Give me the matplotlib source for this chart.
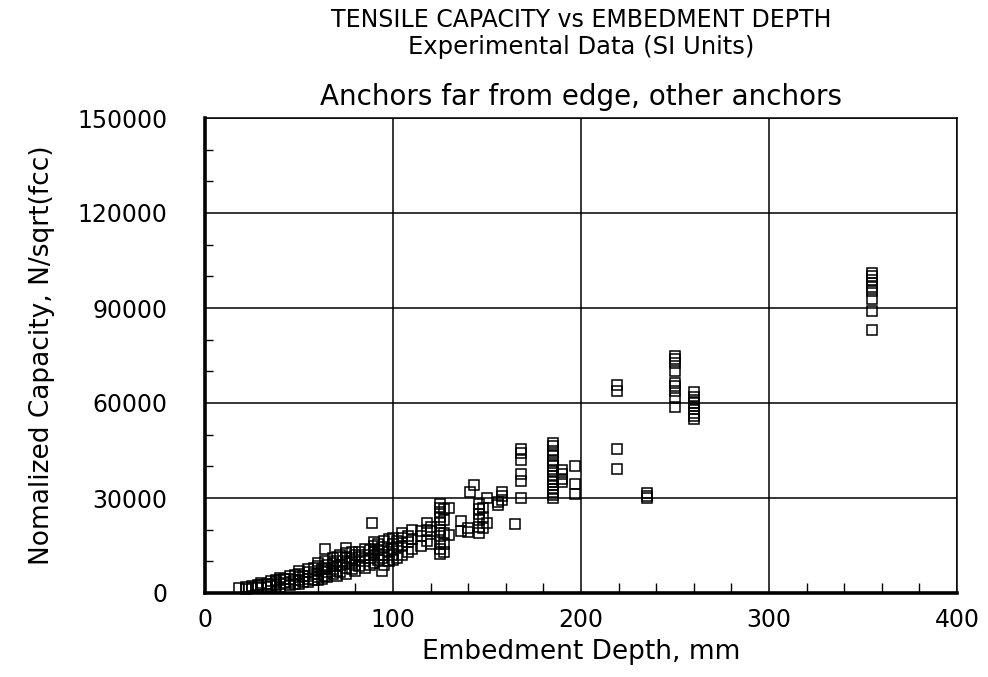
import numpy as np
import matplotlib
matplotlib.use("Agg")
from matplotlib import pyplot as plt
from matplotlib.ticker import MultipleLocator

# embedment depth (mm) and normalized capacity (N/sqrt(fcc))
depth = [
    18, 22, 22, 25, 25, 28, 28, 30, 30, 30, 33, 33, 35, 35, 35,
    38, 38, 38, 40, 40, 40, 40, 42, 42, 45, 45, 45, 45, 48, 48, 48,
    50, 50, 50, 50, 50, 52, 52, 55, 55, 55, 55, 55, 58, 58, 58,
    60, 60, 60, 60, 60, 60, 62, 62, 64, 64, 64, 64, 65, 65, 65,
    68, 68, 68, 68, 70, 70, 70, 70, 70, 72, 72, 72,
    75, 75, 75, 75, 75, 75, 78, 78, 78, 78, 80, 80, 80, 80,
    82, 82, 82, 85, 85, 85, 85, 88, 88, 88, 89,
    90, 90, 90, 90, 90, 90, 92, 92, 92, 94, 94, 94, 95, 95, 95,
    98, 98, 98, 100, 100, 100, 100, 100, 102, 102, 102,
    105, 105, 105, 105, 108, 108, 108, 110, 110, 110,
    115, 115, 115, 118, 118, 118, 120, 120, 120,
    125, 125, 125, 125, 125, 125, 125, 125, 125, 125,
    127, 127, 127, 127, 127, 130, 130, 136, 136, 140, 140, 141, 143,
    146, 146, 146, 146, 146, 146, 148, 148, 148, 150, 150,
    156, 156, 158, 158, 158, 165,
    168, 168, 168, 168, 168, 168,
    185, 185, 185, 185, 185, 185, 185, 185, 185, 185, 185, 185, 185, 185, 185, 185,
    190, 190, 190, 190, 197, 197, 197,
    219, 219, 219, 219, 235, 235, 235,
    250, 250, 250, 250, 250, 250, 250, 250, 250,
    260, 260, 260, 260, 260, 260, 260, 260, 260,
    355, 355, 355, 355, 355, 355, 355, 355, 355,
]
capacity = [
    1500, 1200, 1800, 1500, 2200, 1800, 2600, 1500, 2500, 3200, 2000, 3000, 2200, 3000, 3800,
    2500, 3500, 4200, 2000, 3000, 4000, 4800, 3200, 4500, 2500, 3500, 4500, 5500, 3000, 4200, 5800,
    3000, 4000, 5000, 6000, 7000, 3500, 5500, 3500, 4500, 5500, 6500, 7500, 4000, 6000, 8000,
    4000, 5000, 6000, 7000, 8500, 9500, 4500, 7500, 14000, 5500, 8000, 10000, 5000, 6500, 9000,
    6000, 7500, 9500, 11000, 5500, 7000, 8500, 10000, 11500, 6500, 9000, 12000,
    14300, 6000, 8000, 10000, 11500, 12500, 7500, 9500, 11000, 13000, 7000, 9000, 10500, 12000,
    8500, 11500, 13000, 8000, 10000, 12000, 14000, 9000, 11000, 13500, 22200,
    9500, 12000, 13000, 14000, 15000, 16000, 10500, 13500, 15500, 6950, 11000, 14500, 9000, 12000, 16500,
    10000, 13000, 17000, 10500, 12000, 14000, 15500, 17500, 11000, 14500, 16500,
    12000, 15000, 17500, 19000, 13000, 16000, 18000, 14000, 17000, 20000,
    15000, 18000, 19500, 16500, 20000, 22200, 15500, 19600, 21000,
    12300, 14000, 16000, 18000, 20000, 22000, 24000, 25500, 27000, 28100,
    13000, 15500, 19000, 23000, 26500, 18300, 26900, 22700, 19500, 19400, 20500, 32000, 34000,
    19000, 21000, 23000, 25000, 26500, 28100, 20500, 24000, 27000, 22000, 30000,
    27800, 28800, 29500, 30500, 32000, 21900,
    29900, 35400, 37700, 42000, 44300, 45400,
    47500, 46500, 45000, 43500, 42000, 41000, 40000, 38500, 37000, 36000, 35000, 34000, 33000, 32000, 31000, 30000,
    39000, 37500, 36000, 35000, 40100, 34300, 31400,
    65600, 63800, 45400, 39300, 31500, 30500, 30000,
    74800, 73800, 72700, 70100, 66400, 65400, 63800, 61700, 58700,
    63500, 62000, 61000, 60000, 59000, 58000, 57000, 56000, 55000,
    101000, 100000, 99000, 98000, 96500, 95400, 93000, 89000, 83200,
]

x_ticks = [0, 100, 200, 300, 400]
y_ticks = [0, 30000, 60000, 90000, 120000, 150000]

plt.rcParams['font.family'] = ['DejaVu Sans']

fig = plt.figure(figsize=(9.88, 6.77), dpi=100)
ax = fig.add_axes([205/988, 84/677, 752/988, 475/677])

ax.plot(depth, capacity, linestyle='none', marker='s', markersize=7,
        markerfacecolor='none', markeredgecolor='black', markeredgewidth=1.1,
        zorder=3, clip_on=False)

ax.set_xlim(0, 400)
ax.set_ylim(0, 150000)
ax.set_xticks(x_ticks)
ax.set_yticks(y_ticks)
ax.set_xticklabels([str(v) for v in x_ticks])
ax.set_yticklabels([str(v) for v in y_ticks])
ax.xaxis.set_minor_locator(MultipleLocator(20))
ax.yaxis.set_minor_locator(MultipleLocator(10000))

ax.grid(True, which='major', color='black', linewidth=1.1)
ax.set_axisbelow(True)

ax.tick_params(which='both', direction='in', labelsize=17, color='black')
ax.tick_params(axis='y', which='major', length=0, pad=27)
ax.tick_params(axis='x', which='major', length=0, pad=11)
ax.tick_params(axis='y', which='minor', length=6, width=1)
ax.tick_params(axis='x', which='minor', length=7, width=1)

for side in ['left', 'bottom']:
    ax.spines[side].set_linewidth(2.6)
for side in ['top', 'right']:
    ax.spines[side].set_linewidth(1.1)

ax.set_xlabel('Embedment Depth, mm', fontsize=19, labelpad=5)
ax.set_ylabel('Nomalized Capacity, N/sqrt(fcc)', fontsize=19, labelpad=16)

cx = 581/988
fig.text(cx, 1 - 20/677, 'TENSILE CAPACITY vs EMBEDMENT DEPTH', ha='center', va='center', fontsize=17)
fig.text(cx, 1 - 47/677, 'Experimental Data (SI Units)', ha='center', va='center', fontsize=17.5)
fig.text(cx, 1 - 97/677, 'Anchors far from edge, other anchors', ha='center', va='center', fontsize=20)

fig.savefig('out.png', dpi=100)
